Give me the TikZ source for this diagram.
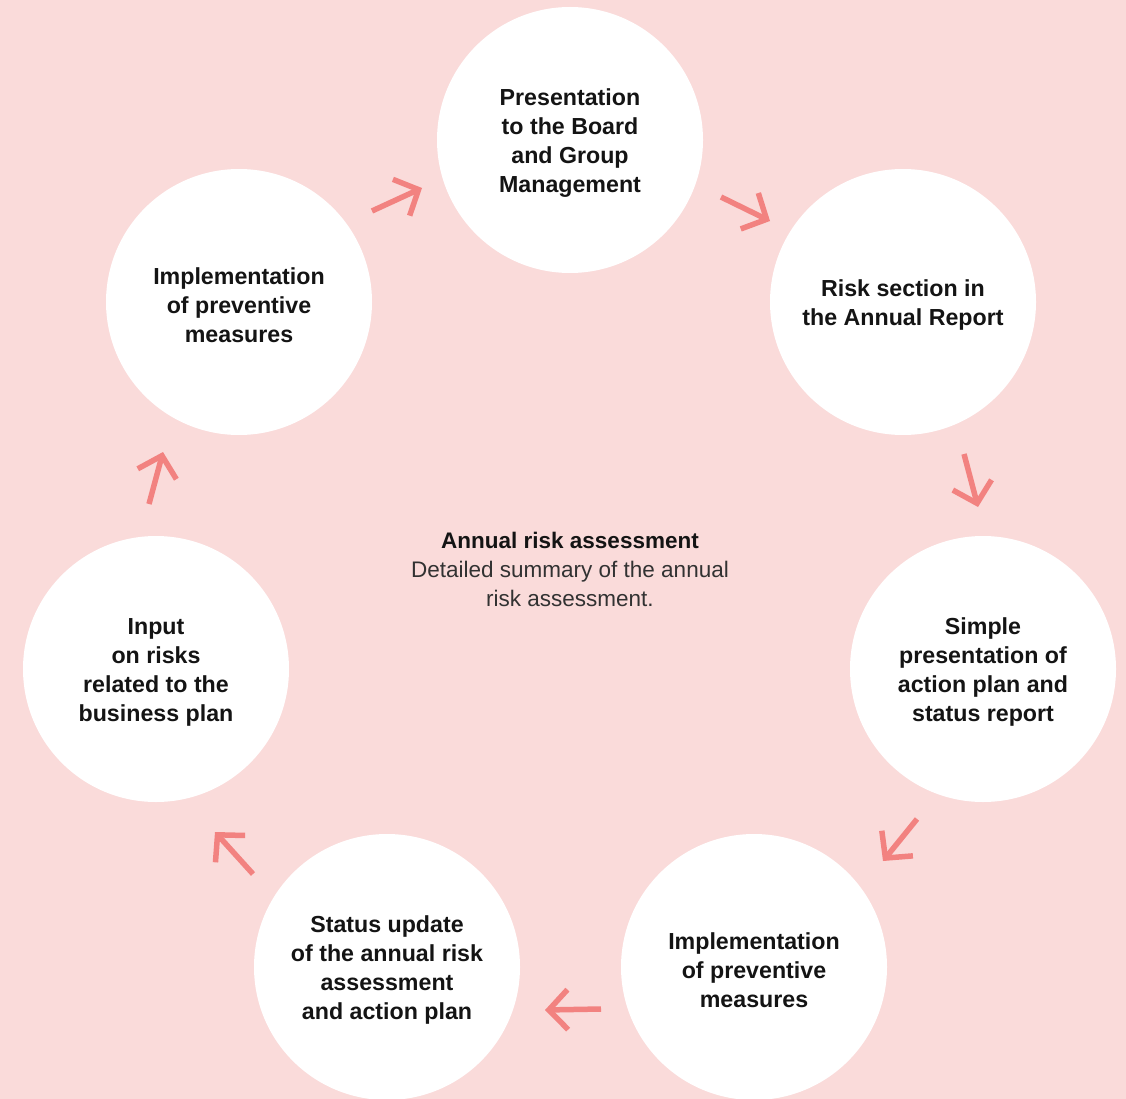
\documentclass[tikz,border=0pt]{standalone}
\usepackage{fontspec}
\setmainfont{Liberation Sans}
\usetikzlibrary{arrows.meta}
\definecolor{bgpink}{RGB}{250,219,218}
\definecolor{arrowred}{RGB}{242,130,128}
\definecolor{inkdark}{RGB}{20,20,20}
\definecolor{inkgrey}{RGB}{50,50,50}
\tikzset{
  stage/.style={circle, fill=white, minimum size=266pt, inner sep=0pt},
  stagetext/.style={align=center, text=inkdark,
    font=\fontsize{23.2}{29}\selectfont\bfseries},
  flow/.style={draw=arrowred, line width=5.5pt,
    -{Straight Barb[length=19pt,width=40pt,sharp]}},
  centretext/.style={align=center, font=\fontsize{22.5}{29}\selectfont}
}
\begin{document}
\begin{tikzpicture}[x=1pt,y=-1pt]
  % page and background
  \useasboundingbox (0,0) rectangle (1126,1099);
  \clip (0,0) rectangle (1126,1099);
  \fill[bgpink] (0,0) rectangle (1126,1099);

  % the seven stages of the cycle
  \node[stage] (board)  at (570,140) {};
  \node[stage] (report) at (903,302) {};
  \node[stage] (simple) at (983,669) {};
  \node[stage] (implb)  at (754,967) {};
  \node[stage] (status) at (387,967) {};
  \node[stage] (input)  at (156,669) {};
  \node[stage] (implt)  at (239,302) {};

  % stage labels, set a little below each circle's centre
  \node[stagetext] (board-t)  at ([yshift=-3pt]board.center)  {Presentation\\to the Board\\and Group\\Management};
  \node[stagetext] (report-t) at ([yshift=-3pt]report.center) {Risk section in\\the Annual Report};
  \node[stagetext] (simple-t) at ([yshift=-3pt]simple.center) {Simple\\presentation of\\action plan and\\status report};
  \node[stagetext] (implb-t)  at ([yshift=-3pt]implb.center)  {Implementation\\of preventive\\measures};
  \node[stagetext] (status-t) at ([yshift=-3pt]status.center) {Status update\\of the annual risk\\assessment\\and action plan};
  \node[stagetext] (input-t)  at ([yshift=-3pt]input.center)  {Input\\on risks\\related to the\\business plan};
  \node[stagetext] (implt-t)  at ([yshift=-3pt]implt.center)  {Implementation\\of preventive\\measures};

  % centre caption
  \node[centretext] (caption) at (570,569)
    {\textbf{\color{inkdark}Annual risk assessment}\\
     \color{inkgrey}Detailed summary of the annual\\
     \color{inkgrey}risk assessment.};

  % arrow end points between neighbouring stages
  \coordinate (a1s) at (372,211); \coordinate (a1e) at (422,188);
  \coordinate (a2s) at (721,197); \coordinate (a2e) at (770,221);
  \coordinate (a3s) at (964,454); \coordinate (a3e) at (978,507);
  \coordinate (a4s) at (917,819); \coordinate (a4e) at (883,861);
  \coordinate (a5s) at (601,1009); \coordinate (a5e) at (545,1010);
  \coordinate (a6s) at (253,874); \coordinate (a6e) at (215,832);
  \coordinate (a7s) at (149,504); \coordinate (a7e) at (163,452);

  % connectors around the cycle
  \draw[flow] (a1s) -- (a1e);
  \draw[flow] (a2s) -- (a2e);
  \draw[flow] (a3s) -- (a3e);
  \draw[flow] (a4s) -- (a4e);
  \draw[flow] (a5s) -- (a5e);
  \draw[flow] (a6s) -- (a6e);
  \draw[flow] (a7s) -- (a7e);
\end{tikzpicture}
\end{document}
